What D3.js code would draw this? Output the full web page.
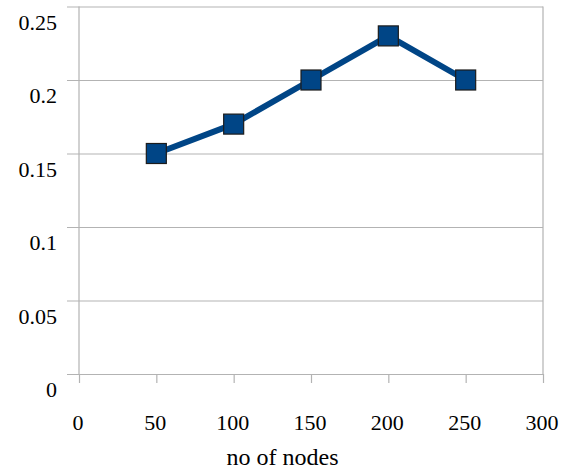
<!DOCTYPE html>
<html>
<head>
<meta charset="utf-8">
<script src="https://cdn.jsdelivr.net/npm/d3@7"></script>
<style>
  body { margin: 0; background: #fff; }
</style>
</head>
<body>
<div id="chart"></div>
<script>
var svgWidth = 565;
var svgHeight = 472;

var margin = { top: 6.5, right: 22, bottom: 98, left: 79 };
var width = svgWidth - margin.left - margin.right;
var height = svgHeight - margin.top - margin.bottom;

var serif = "Liberation Serif";

// chart data
var nodes = [50, 100, 150, 200, 250];
var values = [0.15, 0.17, 0.2, 0.23, 0.2];
var xTicks = [0, 50, 100, 150, 200, 250, 300];
var yTicks = [0, 0.05, 0.1, 0.15, 0.2, 0.25];

var svg = d3.select("#chart")
  .append("svg")
  .attr("width", svgWidth)
  .attr("height", svgHeight);

var chartGroup = svg.append("g")
  .attr("transform", `translate(${margin.left}, ${margin.top})`);

var x = d3.scaleLinear().domain([0, 300]).range([0, width]);
var y = d3.scaleLinear().domain([0, 0.25]).range([height, 0]);

var gridColor = "#b3b3b3";

// horizontal gridlines (extend left as ticks)
var leftAxis = d3.axisLeft(y)
  .tickValues(yTicks)
  .tickSize(-width)
  .tickSizeOuter(0)
  .tickPadding(22)
  .tickFormat(d => String(+d.toFixed(2)));

var yAxis = chartGroup.append("g").call(leftAxis);
yAxis.attr("font-family", serif).attr("font-size", 22);
yAxis.select(".domain").remove();
yAxis.selectAll(".tick line")
  .attr("x1", -12)
  .attr("stroke", gridColor)
  .attr("stroke-width", 1.2);
yAxis.selectAll(".tick text")
  .attr("dy", 22.5)
  .attr("fill", "#000");

// vertical left axis and right border
chartGroup.append("line")
  .attr("x1", 0).attr("x2", 0)
  .attr("y1", 0).attr("y2", height)
  .attr("stroke", gridColor).attr("stroke-width", 1.2);
chartGroup.append("line")
  .attr("x1", width).attr("x2", width)
  .attr("y1", 0).attr("y2", height)
  .attr("stroke", gridColor).attr("stroke-width", 1.2);

// bottom axis
var bottomAxis = d3.axisBottom(x)
  .tickValues(xTicks)
  .tickSize(9)
  .tickSizeOuter(0);

var xAxis = chartGroup.append("g")
  .attr("transform", `translate(0, ${height})`)
  .call(bottomAxis);
xAxis.attr("font-family", serif).attr("font-size", 22);
xAxis.select(".domain").attr("stroke", gridColor).attr("stroke-width", 1.2);
xAxis.selectAll(".tick line").attr("stroke", gridColor).attr("stroke-width", 1.2);
xAxis.selectAll(".tick text")
  .attr("y", 56)
  .attr("dy", 0)
  .attr("dx", -1.5)
  .attr("fill", "#000");

// axis title, centred on the whole picture
svg.append("text")
  .attr("x", svgWidth / 2)
  .attr("y", 465)
  .attr("text-anchor", "middle")
  .attr("font-family", serif)
  .attr("font-size", 24)
  .text("no of nodes");

// line
var data = nodes.map((n, i) => ({ n: n, v: values[i] }));
var line = d3.line().x(d => x(d.n)).y(d => y(d.v));

chartGroup.append("path")
  .datum(data)
  .attr("d", line)
  .attr("fill", "none")
  .attr("stroke", "#004586")
  .attr("stroke-width", 6)
  .attr("stroke-linejoin", "round");

// square markers
var size = 20;
chartGroup.selectAll("rect.marker")
  .data(data)
  .enter()
  .append("rect")
  .attr("class", "marker")
  .attr("x", d => x(d.n) - size / 2)
  .attr("y", d => y(d.v) - size / 2)
  .attr("width", size)
  .attr("height", size)
  .attr("fill", "#004586")
  .attr("stroke", "#1c1c1c")
  .attr("stroke-width", 1.2);
</script>
</body>
</html>
